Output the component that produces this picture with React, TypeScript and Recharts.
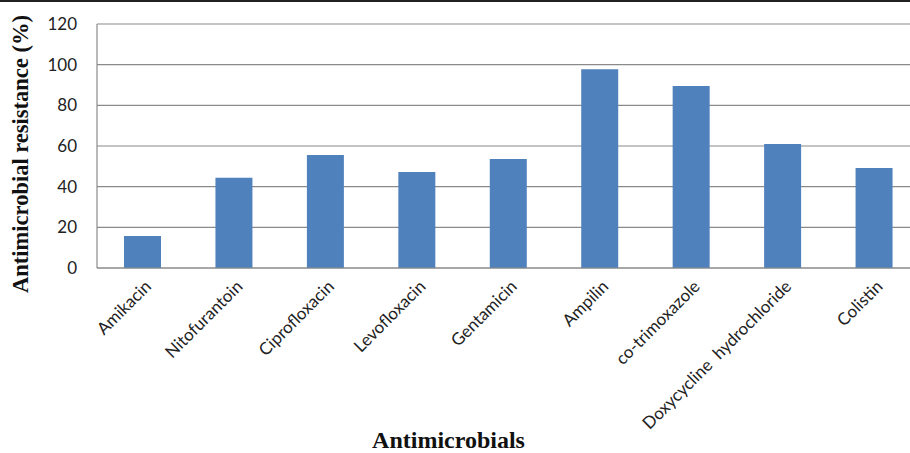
import React from 'react'
import { BarChart, Bar, XAxis, YAxis, CartesianGrid } from 'recharts'

// values
const drugs = [
  'Amikacin',
  'Nitofurantoin',
  'Ciprofloxacin',
  'Levofloxacin',
  'Gentamicin',
  'Ampilin',
  'co-trimoxazole',
  'Doxycycline  hydrochloride',
  'Colistin',
]
const resistance = [15.7, 44.4, 55.6, 47.2, 53.6, 97.7, 89.5, 61, 49.2]
const yTicks = [0, 20, 40, 60, 80, 100, 120]

const data = drugs.map((name, i) => ({ name, value: resistance[i] }))

if (typeof document !== 'undefined') document.body.style.margin = '0'

const AngledTick = (props: any) => {
  const { x, y, payload } = props
  return (
    <g transform={`translate(${x + 6},${y + 8})`}>
      <text
        transform="rotate(-45)"
        textAnchor="end"
        fontFamily="Lato, 'Open Sans', sans-serif"
        fontSize={17}
        fill="#222"
        dy={5}
        style={{ whiteSpace: 'pre' }}
      >
        {payload.value}
      </text>
    </g>
  )
}

export default function App() {
  return (
    <div style={{ width: 910, height: 453, overflow: 'hidden', position: 'relative', background: '#fff' }}>
      <div style={{ position: 'absolute', top: 0, left: 0, width: 910, height: 2, background: '#222' }} />
      <BarChart
        width={920}
        height={453}
        data={data}
        margin={{ top: 24, right: 0, left: 0, bottom: 0 }}
        barCategoryGap={0}
      >
        <CartesianGrid vertical={false} stroke="#8a8a8a" strokeWidth={1.2} />
        <XAxis
          dataKey="name"
          height={185}
          interval={0}
          tickLine={false}
          axisLine={{ stroke: '#8a8a8a', strokeWidth: 1.2 }}
          tick={<AngledTick />}
          label={{
            value: 'Antimicrobials',
            position: 'insideBottom',
            offset: 5,
            dx: -60,
            style: { fontFamily: "'Liberation Serif', serif", fontWeight: 'bold', fontSize: 24, fill: '#111' },
          }}
        />
        <YAxis
          width={97}
          domain={[0, 120]}
          ticks={yTicks}
          tickLine={false}
          axisLine={{ stroke: '#8a8a8a', strokeWidth: 1.2 }}
          tick={{ fontFamily: "Lato, 'Open Sans', sans-serif", fontSize: 17, fill: '#222' }}
          tickMargin={14}
          label={{
            value: 'Antimicrobial resistance (%)',
            angle: -90,
            position: 'insideLeft',
            offset: 20,
            dy: 8,
            style: { textAnchor: 'middle', fontFamily: "'Liberation Serif', serif", fontWeight: 'bold', fontSize: 22.5, fill: '#111' },
          }}
        />
        <Bar dataKey="value" fill="#4f81bd" barSize={37} isAnimationActive={false} />
      </BarChart>
    </div>
  )
}
